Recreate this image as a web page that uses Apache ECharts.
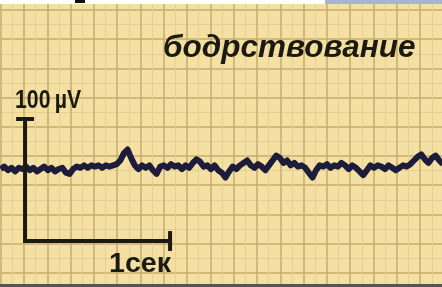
<!DOCTYPE html>
<html>
<head>
<meta charset="utf-8">
<script src="https://cdn.jsdelivr.net/npm/echarts@6/dist/echarts.min.js"></script>
<style>
  html, body { margin: 0; padding: 0; background: #fff; }
  #eeg { width: 442px; height: 287px; }
</style>
</head>
<body>
<div id="eeg"></div>
<script>
// trace, microvolts, one sample every 0.025 s
const traceStep = 0.025;
const traceUv = [
    0, 2, -1, 1, -2, 1, 0, 2, -1, 1, -2, 0, 2, -1, 1, -2, 0, 1, -3, -4,
    0, 2, 1, 3, 1, 3, 2, 3, 1, 3, 2, 3, 4, 7, 13, 16, 9, 3, 0, 3,
    1, 3, -1, -4, 2, 3, 1, 4, 2, 3, 0, 3, 1, 5, 8, 6, 2, 3, 0, 3,
    -1, -3, -7, -2, 2, 0, 3, 5, 7, 3, 1, 4, 2, -1, 3, 7, 11, 9, 5, 7,
    3, 5, 2, 3, 1, -3, -7, -1, 3, 2, 4, 1, 3, 2, 5, 3, 0, 3, 1, -2,
    -5, -1, 3, 1, 3, 2, 0, 3, 1, -1, 1, 3, 2, 4, 7, 10, 12, 8, 5, 9,
    11, 7, 4
];

// scale bar: [seconds, microvolts]
const barVertical = [[0.168, -59.0], [0.168, 41.0]];
const barTopTick = [[0.12, 41.0], [0.216, 41.0]];
const barHorizontal = [[0.168, -59.0], [1.168, -59.0]];
const barEndTick = [[1.168, -52.5], [1.168, -65.5]];

const title = 'бодрствование';
const voltLabel = '100\u2009µV';
const timeLabel = '1сек';

function eegChart(element) {
    const chartDom = document.getElementById(element);
    const myChart = echarts.init(chartDom);

    const major = '#c4ad6c';
    const minor = '#e6d08f';
    const ink = '#1b1a12';
    const font = '"Liberation Sans", Arial, sans-serif';

    const traceData = traceUv.map((v, i) => [i * traceStep, v]);

    const bar = (data) => ({
        type: 'line',
        xAxisIndex: 1,
        yAxisIndex: 1,
        data: data,
        symbol: 'none',
        silent: true,
        lineStyle: {color: ink, width: 4, cap: 'square'}
    });

    const gridAxis = (max) => ({
        type: 'value',
        min: 0,
        max: max,
        interval: 1,
        axisLine: {show: false},
        axisTick: {show: false},
        axisLabel: {show: false},
        splitLine: {show: true, lineStyle: {color: major, width: 1.5}},
        minorTick: {show: false, splitNumber: 2},
        minorSplitLine: {show: true, lineStyle: {color: minor, width: 1}}
    });

    const option = {
        animation: false,
        backgroundColor: '#f5e0a4',
        grid: {left: 0.7, top: -19.2, width: 466, height: 321.2, outerBoundsMode: 'none', containLabel: false},
        xAxis: [
            gridAxis(20),
            {type: 'value', min: 0, max: 466 / 145, show: false}
        ],
        yAxis: [
            gridAxis(11),
            {type: 'value', min: -109.0, max: 154.3, show: false}
        ],
        series: [
            {
                type: 'line',
                xAxisIndex: 1,
                yAxisIndex: 1,
                data: traceData,
                symbol: 'none',
                lineStyle: {color: '#1d1c3a', width: 6, join: 'round'}
            },
            bar(barVertical),
            bar(barTopTick),
            bar(barHorizontal),
            bar(barEndTick)
        ],
        graphic: [
            {type: 'rect', z: 100, left: 0, top: 0, shape: {width: 442, height: 4}, style: {fill: '#ffffff'}},
            {type: 'rect', z: 100, left: 75, top: 0, shape: {width: 10, height: 3}, style: {fill: '#111111'}},
            {type: 'rect', z: 100, left: 325, top: 0, shape: {width: 117, height: 4}, style: {fill: '#a9b3d2'}},
            {type: 'rect', z: 100, left: 0, top: 284, shape: {width: 442, height: 3}, style: {fill: '#555555'}},
            {
                type: 'text', z: 100, x: 163, y: 32, scaleX: 0.985,
                style: {text: title, fill: ink, font: 'italic bold 32px ' + font}
            },
            {
                type: 'text', z: 100, x: 15, y: 89, scaleX: 0.85,
                style: {text: voltLabel, fill: ink, font: 'bold 25px ' + font}
            },
            {
                type: 'text', z: 100, x: 109, y: 251, scaleX: 1.06,
                style: {text: timeLabel, fill: ink, font: 'bold 27px ' + font}
            }
        ]
    };

    option && myChart.setOption(option);
}

eegChart('eeg');
</script>
</body>
</html>
